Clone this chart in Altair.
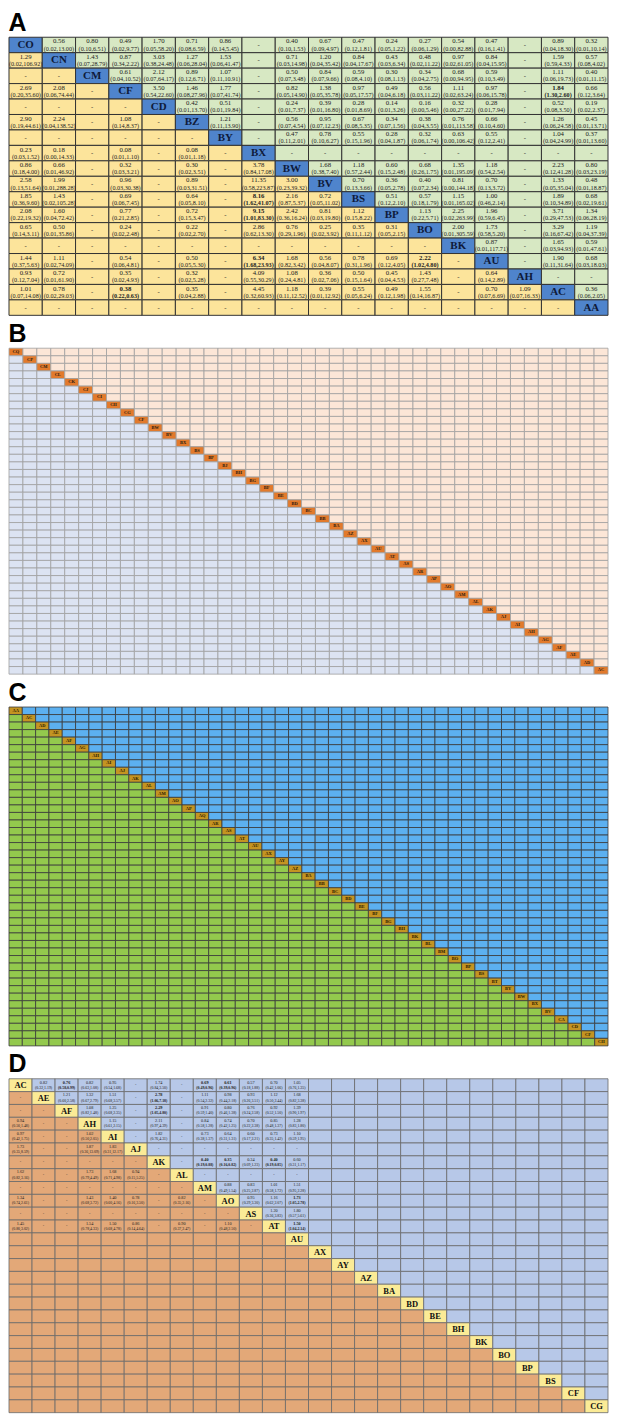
import altair as alt
import pandas as pd

# ---------------- Panel A ----------------
A_trt = ["CO", "CN", "CM", "CF", "CD", "BZ", "BY", "BX", "BW", "BV", "BS", "BP", "BO", "BK", "AU", "AH", "AC", "AA"]
A_CO = ["", "0.56 (0.02,13.00)", "0.80 (0.10,6.51)", "0.49 (0.02,9.77)", "1.70 (0.05,58.20)", "0.71 (0.08,6.59)", "0.86 (0.14,5.45)", "-", "0.40 (0.10,1.53)", "0.67 (0.09,4.97)", "0.47 (0.12,1.81)", "0.24 (0.05,1.22)", "0.27 (0.06,1.29)", "0.54 (0.00,82.88)", "0.47 (0.16,1.41)", "-", "0.89 (0.04,18.30)", "0.32 (0.01,10.14)"]
A_CN = ["1.29 (0.02,106.92)", "", "1.43 (0.07,28.79)", "0.87 (0.34,2.22)", "3.03 (0.38,24.48)", "1.27 (0.06,28.04)", "1.53 (0.06,41.47)", "-", "0.71 (0.03,14.98)", "1.20 (0.04,35.42)", "0.84 (0.04,17.67)", "0.43 (0.03,6.34)", "0.48 (0.02,11.22)", "0.97 (0.02,61.05)", "0.84 (0.04,15.95)", "-", "1.59 (0.59,4.33)", "0.57 (0.08,4.02)"]
A_CM = ["-", "-", "", "0.61 (0.04,10.52)", "2.12 (0.07,64.17)", "0.89 (0.12,6.71)", "1.07 (0.11,10.91)", "-", "0.50 (0.07,3.48)", "0.84 (0.07,9.66)", "0.59 (0.08,4.10)", "0.30 (0.08,1.13)", "0.34 (0.04,2.75)", "0.68 (0.00,94.95)", "0.59 (0.10,3.49)", "-", "1.11 (0.06,19.73)", "0.40 (0.01,11.15)"]
A_CF = ["2.69 (0.20,35.60)", "2.08 (0.06,74.44)", "-", "", "3.50 (0.54,22.60)", "1.46 (0.08,27.96)", "1.77 (0.07,41.74)", "-", "0.82 (0.05,14.90)", "1.38 (0.05,35.78)", "0.97 (0.05,17.57)", "0.49 (0.04,6.18)", "0.56 (0.03,11.22)", "1.11 (0.02,63.24)", "0.97 (0.06,15.78)", "-", "*1.84 (1.30,2.60)", "0.66 (0.12,3.64)"]
A_CD = ["-", "-", "-", "-", "", "0.42 (0.01,13.70)", "0.51 (0.01,19.84)", "-", "0.24 (0.01,7.37)", "0.39 (0.01,16.80)", "0.28 (0.01,8.69)", "0.14 (0.01,3.26)", "0.16 (0.00,5.46)", "0.32 (0.00,27.22)", "0.28 (0.01,7.94)", "-", "0.52 (0.08,3.50)", "0.19 (0.02,2.37)"]
A_BZ = ["2.90 (0.19,44.61)", "2.24 (0.04,138.52)", "-", "1.08 (0.14,8.37)", "-", "", "1.21 (0.11,13.90)", "-", "0.56 (0.07,4.54)", "0.95 (0.07,12.23)", "0.67 (0.08,5.35)", "0.34 (0.07,1.56)", "0.38 (0.04,3.55)", "0.76 (0.01,113.58)", "0.66 (0.10,4.60)", "-", "1.26 (0.06,24.58)", "0.45 (0.01,13.71)"]
A_BY = ["-", "-", "-", "-", "-", "-", "", "-", "0.47 (0.11,2.01)", "0.78 (0.10,6.27)", "0.55 (0.15,1.96)", "0.28 (0.04,1.87)", "0.32 (0.06,1.74)", "0.63 (0.00,106.42)", "0.55 (0.12,2.41)", "-", "1.04 (0.04,24.99)", "0.37 (0.01,13.60)"]
A_BX = ["0.23 (0.03,1.52)", "0.18 (0.00,14.33)", "-", "0.08 (0.01,1.10)", "-", "0.08 (0.01,1.18)", "-", "", "-", "-", "-", "-", "-", "-", "-", "-", "-", "-"]
A_BW = ["0.86 (0.18,4.00)", "0.66 (0.01,46.92)", "-", "0.32 (0.03,3.21)", "-", "0.30 (0.02,3.51)", "-", "3.78 (0.84,17.08)", "", "1.68 (0.38,7.40)", "1.18 (0.57,2.44)", "0.60 (0.15,2.48)", "0.68 (0.26,1.75)", "1.35 (0.01,195.09)", "1.18 (0.54,2.54)", "-", "2.23 (0.12,41.28)", "0.80 (0.03,23.19)"]
A_BV = ["2.58 (0.13,51.64)", "1.99 (0.01,288.28)", "-", "0.96 (0.03,30.38)", "-", "0.89 (0.03,31.51)", "-", "11.35 (0.58,223.87)", "3.00 (0.23,39.32)", "", "0.70 (0.13,3.66)", "0.36 (0.05,2.78)", "0.40 (0.07,2.34)", "0.81 (0.00,144.18)", "0.70 (0.13,3.72)", "-", "1.33 (0.05,35.04)", "0.48 (0.01,18.87)"]
A_BS = ["1.85 (0.36,9.60)", "1.43 (0.02,105.28)", "-", "0.69 (0.06,7.45)", "-", "0.64 (0.05,8.10)", "-", "*8.16 (1.62,41.07)", "2.16 (0.87,5.37)", "0.72 (0.05,11.02)", "", "0.51 (0.12,2.10)", "0.57 (0.18,1.79)", "1.15 (0.01,165.02)", "1.00 (0.46,2.14)", "-", "1.89 (0.10,34.89)", "0.68 (0.02,19.61)"]
A_BP = ["2.08 (0.22,19.32)", "1.60 (0.04,72.42)", "-", "0.77 (0.21,2.85)", "-", "0.72 (0.15,3.47)", "-", "*9.15 (1.01,83.30)", "2.42 (0.36,16.24)", "0.81 (0.03,19.80)", "1.12 (0.15,8.22)", "", "1.13 (0.22,5.71)", "2.25 (0.02,263.99)", "1.96 (0.59,6.45)", "-", "3.71 (0.29,47.53)", "1.34 (0.06,28.19)"]
A_BO = ["0.65 (0.14,3.11)", "0.50 (0.01,35.86)", "-", "0.24 (0.02,2.48)", "-", "0.22 (0.02,2.70)", "-", "2.86 (0.62,13.30)", "0.76 (0.29,1.96)", "0.25 (0.02,3.92)", "0.35 (0.11,1.12)", "0.31 (0.05,2.15)", "", "2.00 (0.01,305.59)", "1.73 (0.58,5.20)", "-", "3.29 (0.16,67.42)", "1.19 (0.04,37.39)"]
A_BK = ["-", "-", "-", "-", "-", "-", "-", "-", "-", "-", "-", "-", "-", "", "0.87 (0.01,117.71)", "-", "1.65 (0.03,94.93)", "0.59 (0.01,47.61)"]
A_AU = ["1.44 (0.37,5.63)", "1.11 (0.02,74.09)", "-", "0.54 (0.06,4.81)", "-", "0.50 (0.05,5.30)", "-", "*6.34 (1.68,23.93)", "1.68 (0.82,3.42)", "0.56 (0.04,8.07)", "0.78 (0.31,1.96)", "0.69 (0.12,4.05)", "*2.22 (1.02,4.80)", "-", "", "-", "1.90 (0.11,31.64)", "0.68 (0.03,18.03)"]
A_AH = ["0.93 (0.12,7.04)", "0.72 (0.01,61.90)", "-", "0.35 (0.02,4.93)", "-", "0.32 (0.02,5.28)", "-", "4.09 (0.55,30.29)", "1.08 (0.24,4.81)", "0.36 (0.02,7.06)", "0.50 (0.15,1.64)", "0.45 (0.04,4.53)", "1.43 (0.27,7.48)", "-", "0.64 (0.14,2.89)", "", "-", "-"]
A_AC = ["1.01 (0.07,14.08)", "0.78 (0.02,29.03)", "-", "*0.38 (0.22,0.63)", "-", "0.35 (0.04,2.88)", "-", "4.45 (0.32,60.93)", "1.18 (0.11,12.52)", "0.39 (0.01,12.92)", "0.55 (0.05,6.24)", "0.49 (0.12,1.98)", "1.55 (0.14,16.87)", "-", "0.70 (0.07,6.69)", "1.09 (0.07,16.33)", "", "0.36 (0.06,2.05)"]
A_AA = ["-"] * 17 + [""]
A_rows = [A_CO, A_CN, A_CM, A_CF, A_CD, A_BZ, A_BY, A_BX, A_BW, A_BV, A_BS, A_BP, A_BO, A_BK, A_AU, A_AH, A_AC, A_AA]

# ---------------- Panel B ----------------
B_trt = ["CQ", "CP", "CM", "CL", "CK", "CJ", "CI", "CH", "CG", "CF", "BW", "BV", "BX", "BS", "BP", "BJ", "BH", "BG", "BF", "BE", "BD", "BC", "BB", "BA", "AZ", "AX", "AU", "AT", "AS", "AR", "AP", "AO", "AM", "AL", "AK", "AJ", "AI", "AH", "AG", "AF", "AE", "AD", "AC"]

# ---------------- Panel C ----------------
C_trt = ["AA", "AC", "AD", "AE", "AF", "AG", "AH", "AI", "AJ", "AK", "AL", "AM", "AO", "AP", "AQ", "AR", "AS", "AT", "AU", "AX", "AY", "AZ", "BA", "BB", "BC", "BD", "BE", "BF", "BG", "BH", "BK", "BL", "BM", "BO", "BP", "BS", "BT", "BY", "BW", "BX", "BV", "CA", "CD", "CF", "CH"]

# ---------------- Panel D ----------------
D_trt = ["AC", "AE", "AF", "AH", "AI", "AJ", "AK", "AL", "AM", "AO", "AS", "AT", "AU", "AX", "AY", "AZ", "BA", "BD", "BE", "BH", "BK", "BO", "BP", "BS", "CF", "CG"]
D_AC = ["", "0.82 (0.32,1.19)", "*0.76 (0.58,0.99)", "0.82 (0.63,1.08)", "0.95 (0.54,1.68)", "-", "1.74 (0.84,3.50)", "-", "*0.69 (0.49,0.96)", "*0.61 (0.39,0.96)", "0.57 (0.18,1.88)", "0.70 (0.42,1.06)", "1.05 (0.76,1.35)"]
D_AE = ["-", "", "1.21 (0.60,2.58)", "1.32 (0.67,2.79)", "1.51 (0.68,3.57)", "-", "*2.78 (1.06,7.18)", "-", "1.11 (0.54,2.32)", "0.98 (0.44,2.18)", "0.93 (0.26,3.51)", "1.12 (0.50,2.44)", "1.68 (0.82,3.38)"]
D_AF = ["-", "-", "", "1.08 (0.82,1.48)", "1.25 (0.68,2.35)", "-", "*2.29 (1.05,4.80)", "-", "0.91 (0.59,1.40)", "0.80 (0.46,1.38)", "0.76 (0.24,2.58)", "0.92 (0.52,1.50)", "1.39 (0.90,1.97)"]
D_AH = ["0.94 (0.50,1.48)", "-", "-", "", "1.15 (0.61,2.15)", "-", "2.11 (0.97,4.39)", "-", "0.84 (0.58,1.28)", "0.74 (0.42,1.25)", "0.70 (0.22,2.38)", "0.85 (0.48,1.37)", "1.28 (0.83,1.80)"]
D_AI = ["0.97 (0.42,1.75)", "-", "-", "1.02 (0.50,2.05)", "", "-", "1.82 (0.76,4.31)", "-", "0.73 (0.38,1.37)", "0.64 (0.31,1.31)", "0.60 (0.17,2.21)", "0.73 (0.35,1.42)", "1.10 (0.59,1.95)"]
D_AJ = ["1.73 (0.35,8.59)", "-", "-", "1.87 (0.36,13.09)", "1.83 (0.31,12.17)", "", "-", "-", "-", "-", "-", "-", "-"]
D_AK = ["-", "-", "-", "-", "-", "-", "", "-", "*0.40 (0.19,0.88)", "*0.35 (0.16,0.82)", "0.34 (0.09,1.23)", "*0.40 (0.19,0.85)", "0.60 (0.31,1.17)"]
D_AL = ["1.62 (0.82,3.16)", "-", "-", "1.73 (0.79,4.49)", "1.68 (0.71,4.98)", "0.94 (0.15,5.25)", "-", "", "-", "-", "-", "-", "-"]
D_AM = ["-", "-", "-", "-", "-", "-", "-", "-", "", "0.88 (0.49,1.54)", "0.83 (0.25,2.87)", "1.01 (0.58,1.72)", "1.51 (0.95,2.28)"]
D_AO = ["1.34 (0.74,2.61)", "-", "-", "1.43 (0.68,3.72)", "1.40 (0.60,4.16)", "0.78 (0.16,3.50)", "-", "0.82 (0.35,2.16)", "-", "", "0.95 (0.29,3.30)", "1.16 (0.62,2.07)", "*1.73 (1.05,2.78)"]
D_AS = ["-", "-", "-", "-", "-", "-", "-", "-", "-", "-", "", "1.20 (0.36,3.83)", "1.80 (0.57,5.61)"]
D_AT = ["1.45 (0.80,3.02)", "-", "-", "1.54 (0.78,4.33)", "1.50 (0.68,4.78)", "0.86 (0.14,4.64)", "-", "0.90 (0.37,2.47)", "-", "1.10 (0.48,2.50)", "-", "", "*1.50 (1.04,2.14)"]
D_known = [D_AC, D_AE, D_AF, D_AH, D_AI, D_AJ, D_AK, D_AL, D_AM, D_AO, D_AS, D_AT]


def build(trt, rows, colors):
    n = len(trt)
    recs = []
    for i in range(n):
        for j in range(n):
            cat = "diag" if i == j else ("upper" if j > i else "lower")
            s = ""
            if rows is not None and i < len(rows) and j < len(rows[i]):
                s = rows[i][j]
            bold = s.startswith("*")
            s = s.lstrip("*")
            v, ci, mid = "", "", ""
            if i == j:
                mid = trt[i]
            elif s == "-":
                mid = "-"
            elif s:
                v, ci = s.split(" ", 1)
            recs.append(dict(r=i, c=j, fill=colors[cat], v=v, ci=ci, mid=mid,
                             bold=bold, diag=(i == j)))
    return pd.DataFrame(recs)


def panel(title, trt, rows, w, h, colors, stroke, sw, lab_size, lab_color,
          vsize, cisize, off, font="Liberation Serif"):
    df = build(trt, rows, colors)
    xs = alt.X("c:O", axis=None, scale=alt.Scale(paddingInner=0, paddingOuter=0))
    ys = alt.Y("r:O", axis=None, scale=alt.Scale(paddingInner=0, paddingOuter=0))
    base = alt.Chart(df)
    rect = base.mark_rect(stroke=stroke, strokeWidth=sw).encode(
        x=xs, y=ys, color=alt.Color("fill:N", scale=None, legend=None))
    layers = [rect]
    layers.append(base.transform_filter("datum.diag").mark_text(
        font=font, fontWeight="bold", fontSize=lab_size, color=lab_color).encode(
        x=xs, y=ys, text="mid:N"))
    layers.append(base.transform_filter("!datum.diag && datum.mid == '-'").mark_text(
        font=font, fontSize=vsize, color="#222").encode(x=xs, y=ys, text="mid:N"))
    for b in (False, True):
        flt = "datum.bold" if b else "!datum.bold"
        fw = "bold" if b else "normal"
        layers.append(base.transform_filter(flt + " && datum.v != ''").mark_text(
            font=font, fontSize=vsize, fontWeight=fw, dy=-off, color="#222").encode(
            x=xs, y=ys, text="v:N"))
        layers.append(base.transform_filter(flt + " && datum.ci != ''").mark_text(
            font=font, fontSize=cisize, fontWeight=fw, dy=off, color="#222").encode(
            x=xs, y=ys, text="ci:N"))
    return alt.layer(*layers).properties(
        width=w, height=h,
        title=alt.TitleParams(title, anchor="start", fontSize=25, font="Liberation Sans",
                              fontWeight="bold", offset=1, color="#000"))


W = 601
pA = panel("A", A_trt, A_rows, W, 279,
           {"upper": "#D7E8C3", "lower": "#FCE49B", "diag": "#4F84CC"}, "#333333", 1,
           11, "#0E1A3A", 6.8, 6.2, 3.6)
pB = panel("B", B_trt, None, W, 327,
           {"upper": "#FCE6D7", "lower": "#DCE3F2", "diag": "#E27A2C"}, "#A0A0A0", 0.8,
           4.5, "#2A1A10", 2.5, 2.2, 1.5)
pC = panel("C", C_trt, None, W, 340,
           {"upper": "#5CB0F0", "lower": "#93C94D", "diag": "#C49422"}, "#3A3A3A", 0.8,
           4.5, "#2A1A00", 2.5, 2.2, 1.5)
pD = panel("D", D_trt, D_known, W, 335,
           {"upper": "#B7C8E8", "lower": "#E3A878", "diag": "#FBEB96"}, "#6A6A6A", 0.8,
           8.5, "#111111", 4.3, 3.9, 2.6)

chart = alt.vconcat(pA, pB, pC, pD, spacing=5).properties(padding=0).configure_view(
    stroke=None)

chart.save("out.html", embed_options={"renderer": "svg", "actions": False})
